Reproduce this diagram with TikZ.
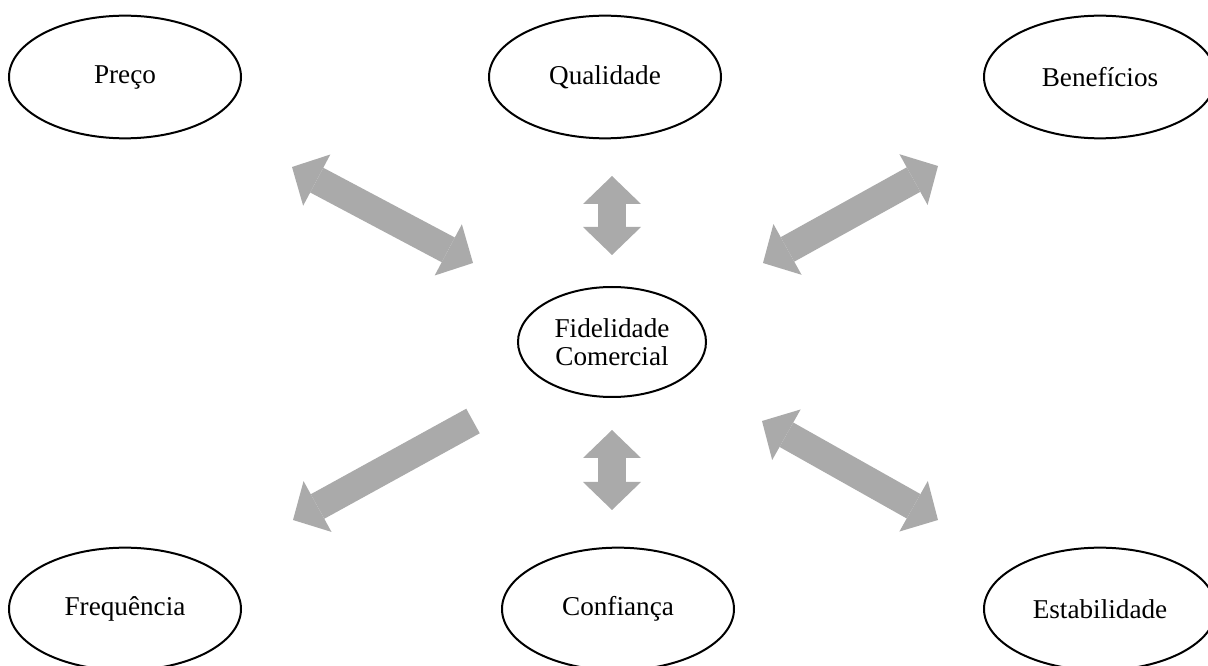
\documentclass[tikz,border=0pt]{standalone}
\usepackage{fontspec}
\setmainfont{Liberation Serif}
\usetikzlibrary{shapes.geometric,arrows.meta}

\definecolor{cinzaseta}{RGB}{170,170,170}
\tikzset{every picture/.style={line width=0.75pt}}
\tikzset{
  elipse/.style={draw, ellipse, line width=1.5pt, inner sep=0pt,
    minimum width=174pt, minimum height=92pt, align=center,
    font=\fontsize{20.4}{21}\selectfont},
  seta/.style={draw=cinzaseta, line width=21pt,
    {Triangle[length=21pt,width=43.5pt,line width=0pt]}-{Triangle[length=21pt,width=43.5pt,line width=0pt]}},
  setaum/.style={draw=cinzaseta, line width=21pt,
    -{Triangle[length=21pt,width=43.5pt,line width=0pt]}}
}

\begin{document}
\begin{tikzpicture}[x=0.75pt,y=0.75pt,yscale=-1,xscale=1]
\useasboundingbox (0,0) rectangle (1208,666);

%Shape: Ellipse
\node [elipse] (preco) at (125,77) {Preço};
%Shape: Ellipse
\node [elipse] (qualidade) at (605,77) {Qualidade};
%Shape: Ellipse
\node [elipse] (beneficios) at (1100,77) {Benefícios};
%Shape: Ellipse
\node [elipse, minimum width=141pt, minimum height=82.5pt] (fidelidade) at (612,342) {Fidelidade\\Comercial};
%Shape: Ellipse
\node [elipse] (frequencia) at (125,609) {Frequência};
%Shape: Ellipse
\node [elipse] (confianca) at (618,609) {Confiança};
%Shape: Ellipse
\node [elipse] (estabilidade) at (1100,609) {Estabilidade};

%Arrow ends
\coordinate (pA) at (292,167);  \coordinate (pB) at (473,263);
\coordinate (qA) at (612,176);  \coordinate (qB) at (612,255);
\coordinate (bA) at (763,263);  \coordinate (bB) at (938,166);
\coordinate (fA) at (473,421);  \coordinate (fB) at (293,520);
\coordinate (cA) at (612,430);  \coordinate (cB) at (612,510);
\coordinate (eA) at (762,421);  \coordinate (eB) at (938,520);

%Block Arrows
\draw [seta] (pA) -- (pB);
\draw [seta] (qA) -- (qB);
\draw [seta] (bA) -- (bB);
\draw [setaum] (fA) -- (fB);
\draw [seta] (cA) -- (cB);
\draw [seta] (eA) -- (eB);

\end{tikzpicture}
\end{document}
